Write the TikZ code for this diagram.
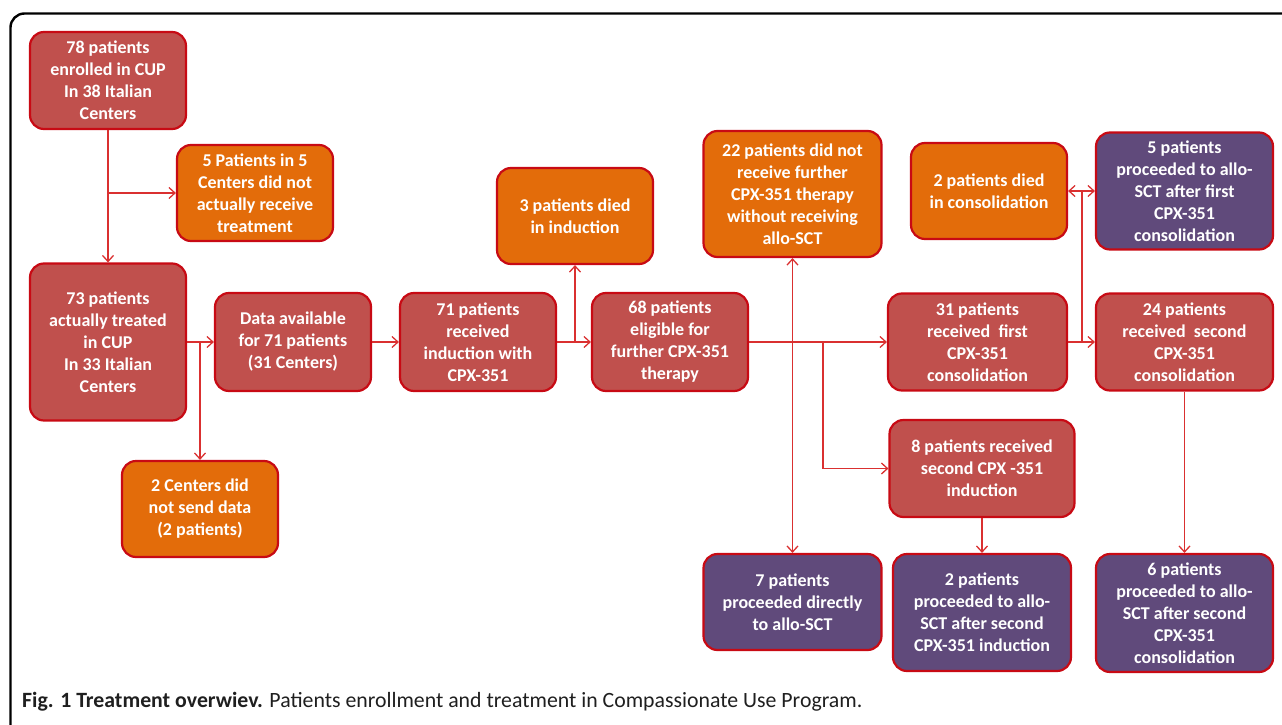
\documentclass[tikz,border=0pt]{standalone}
\usepackage{fontspec}
\setmainfont{Carlito}
\usetikzlibrary{arrows.meta,calc}

\definecolor{boxred}{RGB}{192,80,77}
\definecolor{boxorange}{RGB}{227,108,10}
\definecolor{boxpurple}{RGB}{96,74,123}
\definecolor{rim}{RGB}{200,10,20}
\definecolor{wire}{RGB}{218,48,48}

\begin{document}
\begin{tikzpicture}[x=1pt, y=-1pt,
  >={Straight Barb[length=6pt,width=11pt]},
  box/.style={rectangle, rounded corners=14pt, draw=rim, line width=2.2pt, text=white,
    align=center, inner sep=0pt, font=\bfseries\fontsize{18}{22}\selectfont},
  stage/.style={box, fill=boxred},
  dropout/.style={box, fill=boxorange},
  transplant/.style={box, fill=boxpurple},
  flow/.style={draw=wire, line width=1.3pt, ->},
  ]
  \useasboundingbox (0,0) rectangle (1282,725);
  \draw[line width=2.4pt, rounded corners=14pt] (10.5,725) -- (10.5,13.5) -- (1282,13.5);

  \node (b78) [stage, minimum width=156pt, minimum height=97pt] at (108,80.5) {78 patients\\enrolled in CUP\\In 38 Italian\\Centers};
  \node (b5) [dropout, minimum width=156pt, minimum height=96pt] at (255,193) {5 Patients in 5\\Centers did not\\actually receive\\treatment};
  \node (b73) [stage, minimum width=156pt, minimum height=157pt] at (108,342) {73 patients\\actually treated\\in CUP\\In 33 Italian\\Centers};
  \node (bdata) [stage, minimum width=156pt, minimum height=98pt] at (293,342) {Data available\\for 71 patients\\(31 Centers)};
  \node (b2c) [dropout, minimum width=156pt, minimum height=96pt] at (200,509) {2 Centers did\\not send data\\(2 patients)};
  \node (b71) [stage, minimum width=156pt, minimum height=98pt] at (478,342) {71 patients\\received\\induction with\\CPX-351};
  \node (b3) [dropout, minimum width=156pt, minimum height=96pt] at (575,216) {3 patients died\\in induction};
  \node (b68) [stage, minimum width=156pt, minimum height=98pt] at (670,342) {68 patients\\eligible for\\further CPX-351\\therapy};
  \node (b22) [dropout, minimum width=178pt, minimum height=126pt] at (792.5,194) {22 patients did not\\receive further\\CPX-351 therapy\\without receiving\\allo-SCT};
  \node (bdied) [dropout, minimum width=156pt, minimum height=96pt] at (989,191) {2 patients died\\in consolidation};
  \node (b5p) [transplant, minimum width=177pt, minimum height=117pt] at (1184.5,191) {5 patients\\proceeded to allo-\\SCT after first\\CPX-351\\consolidation};
  \node (b31) [stage, minimum width=179pt, minimum height=97pt] at (977.5,342) {31 patients\\received~~first\\CPX-351\\consolidation};
  \node (b24) [stage, minimum width=177pt, minimum height=97pt] at (1184.5,342) {24 patients\\received~~second\\CPX-351\\consolidation};
  \node (b8) [stage, minimum width=185pt, minimum height=97pt] at (982,468.5) {8 patients received\\second CPX -351\\induction};
  \node (b7) [transplant, minimum width=178pt, minimum height=96pt] at (792.5,602) {7 patients\\proceeded directly\\to allo-SCT};
  \node (b2p) [transplant, minimum width=178pt, minimum height=117pt] at (982,612.5) {2 patients\\proceeded to allo-\\SCT after second\\CPX-351 induction};
  \node (b6p) [transplant, minimum width=177pt, minimum height=118pt] at (1184.5,613) {6 patients\\proceeded to allo-\\SCT after second\\CPX-351\\consolidation};

  \node (caption) [anchor=base west, inner sep=0pt, text=black!88, font=\fontsize{21.8}{26}\selectfont] at (22,707)
    {\textbf{Fig. 1 Treatment overwiev.} Patients enrollment and treatment in Compassionate Use Program.};

  \coordinate (split) at (823,342);
  \coordinate (fork) at (1082,342);

  \draw[flow] (b78) -- (b73);
  \draw[flow] (b78.south |- b5.west) -- (b5);
  \draw[flow] (b73) -- (bdata);
  \draw[flow] (b2c.north |- bdata.west) -- (b2c);
  \draw[flow] (bdata) -- (b71);
  \draw[flow] (b71) -- (b68);
  \draw[flow] (b3.south |- b68.west) -- (b3);
  \draw[flow] (b68) -- (b31);
  \draw[flow, <->] (b22) -- (b7);
  \draw[flow] (split) |- (b8);
  \draw[flow] (b31) -- (b24);
  \draw[flow, -] (fork) -- (fork |- bdied.east);
  \draw[flow, <->] (bdied) -- (b5p);
  \draw[flow] (b8) -- (b2p);
  \draw[flow] (b24) -- (b6p);
\end{tikzpicture}
\end{document}
